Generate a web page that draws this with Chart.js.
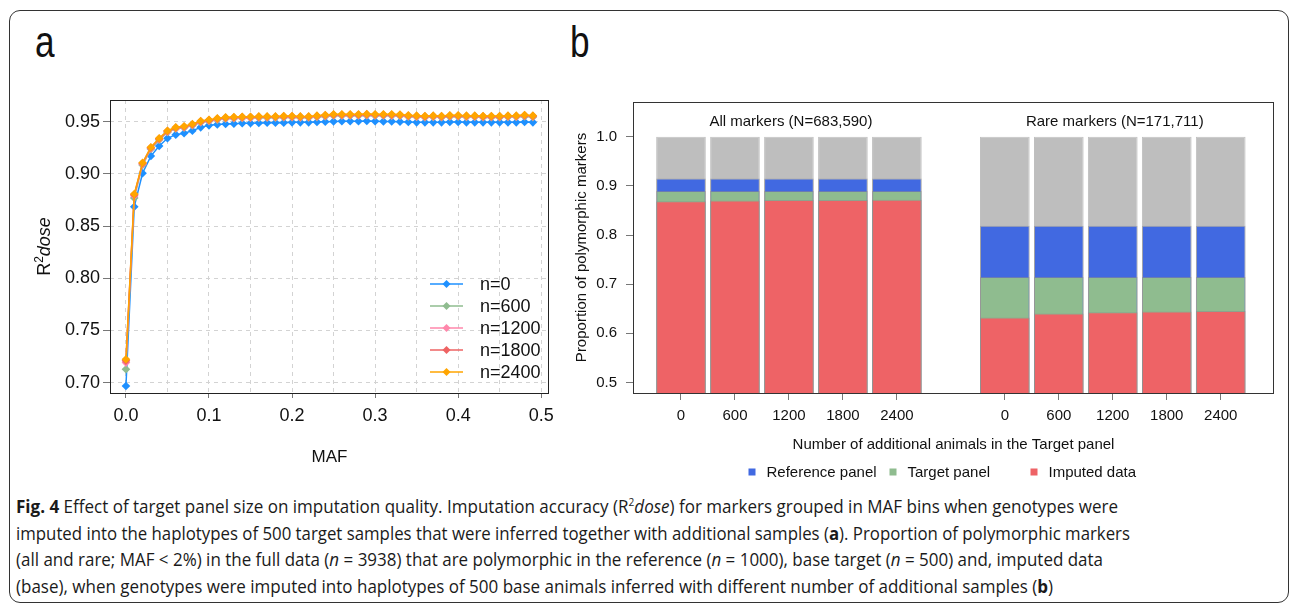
<!DOCTYPE html>
<html><head><meta charset="utf-8">
<script src="https://cdn.jsdelivr.net/npm/chart.js@4.4.1/dist/chart.umd.min.js"></script>
<style>
html,body{margin:0;padding:0;background:#fff;width:1292px;height:605px;overflow:hidden;}
#frame{position:absolute;left:9px;top:10px;width:1280px;height:593px;border:1.5px solid #333;border-radius:11px;box-sizing:border-box;}
.plab{position:absolute;font-family:"Liberation Sans",Arial,sans-serif;font-size:44px;line-height:44px;color:#111;transform:scaleX(0.8);transform-origin:left top;}
#ca{position:absolute;left:0;top:80px;}
#cb{position:absolute;left:560px;top:80px;}
#cap{position:absolute;left:16px;top:493px;font-family:"Open Sans",sans-serif;font-size:18.5px;line-height:26.6px;color:#1a1a1a;white-space:nowrap;}
.ln{transform-origin:left center;width:max-content;}
</style></head>
<body>
<div id="frame"></div>
<div class="plab" style="left:35px;top:20px;">a</div>
<div class="plab" style="left:570px;top:20px;">b</div>
<canvas id="ca" width="570" height="400"></canvas>
<canvas id="cb" width="732" height="410"></canvas>
<div id="cap">
<div class="ln" data-w="1102"><b>Fig. 4</b> Effect of target panel size on imputation quality. Imputation accuracy (R<sup style="font-size:11px;line-height:0">2</sup><i>dose</i>) for markers grouped in MAF bins when genotypes were</div>
<div class="ln" data-w="1114">imputed into the haplotypes of 500 target samples that were inferred together with additional samples (<b>a</b>). Proportion of polymorphic markers</div>
<div class="ln" data-w="1087">(all and rare; MAF &lt; 2%) in the full data (<i>n</i> = 3938) that are polymorphic in the reference (<i>n</i> = 1000), base target (<i>n</i> = 500) and, imputed data</div>
<div class="ln" data-w="1037">(base), when genotypes were imputed into haplotypes of 500 base animals inferred with different number of additional samples (<b>b</b>)</div>
</div>
<script>
// ---------------- Panel a data ----------------
const mafValues = [0,0.01,0.02,0.03,0.04,0.05,0.06,0.07,0.08,0.09,0.10,0.11,0.12,0.13,0.14,0.15,0.16,0.17,0.18,0.19,0.20,0.21,0.22,0.23,0.24,0.25,0.26,0.27,0.28,0.29,0.30,0.31,0.32,0.33,0.34,0.35,0.36,0.37,0.38,0.39,0.40,0.41,0.42,0.43,0.44,0.45,0.46,0.47,0.48,0.49];
const seriesLabels = ['n=0','n=600','n=1200','n=1800','n=2400'];
const r2_n0 = [0.6968,0.8686,0.9006,0.9171,0.9267,0.9341,0.9376,0.9389,0.9414,0.9446,0.9465,0.9474,0.9478,0.9481,0.9485,0.9485,0.9488,0.9491,0.9491,0.9491,0.9494,0.9494,0.9494,0.9497,0.9500,0.9503,0.9505,0.9505,0.9505,0.9507,0.9505,0.9503,0.9503,0.9500,0.9497,0.9494,0.9494,0.9494,0.9494,0.9497,0.9497,0.9494,0.9494,0.9494,0.9494,0.9494,0.9494,0.9494,0.9497,0.9494];
const r2_n600 = [0.7128,0.8770,0.9085,0.9238,0.9326,0.9400,0.9432,0.9442,0.9464,0.9492,0.9505,0.9518,0.9528,0.9531,0.9534,0.9535,0.9537,0.9538,0.9538,0.9541,0.9541,0.9538,0.9538,0.9544,0.9551,0.9557,0.9557,0.9558,0.9557,0.9560,0.9557,0.9557,0.9556,0.9554,0.9548,0.9545,0.9541,0.9544,0.9541,0.9547,0.9547,0.9544,0.9545,0.9541,0.9542,0.9541,0.9544,0.9545,0.9551,0.9544];
const r2_n1200 = [0.7192,0.8790,0.9094,0.9245,0.9332,0.9405,0.9437,0.9447,0.9469,0.9497,0.9510,0.9523,0.9533,0.9536,0.9539,0.9539,0.9542,0.9542,0.9543,0.9546,0.9546,0.9542,0.9543,0.9549,0.9556,0.9562,0.9562,0.9562,0.9562,0.9565,0.9562,0.9562,0.9561,0.9559,0.9552,0.9549,0.9546,0.9549,0.9546,0.9552,0.9552,0.9549,0.9549,0.9546,0.9546,0.9546,0.9549,0.9549,0.9556,0.9549];
const r2_n1800 = [0.7210,0.8800,0.9102,0.9250,0.9337,0.9410,0.9442,0.9452,0.9474,0.9503,0.9515,0.9528,0.9538,0.9541,0.9544,0.9544,0.9547,0.9547,0.9547,0.9551,0.9551,0.9547,0.9547,0.9554,0.9561,0.9567,0.9567,0.9567,0.9567,0.9570,0.9567,0.9567,0.9567,0.9564,0.9557,0.9554,0.9551,0.9554,0.9551,0.9557,0.9557,0.9554,0.9554,0.9551,0.9551,0.9551,0.9554,0.9554,0.9561,0.9554];
const r2_n2400 = [0.7224,0.8807,0.9107,0.9255,0.9341,0.9414,0.9446,0.9456,0.9478,0.9507,0.9519,0.9532,0.9542,0.9545,0.9548,0.9548,0.9551,0.9551,0.9551,0.9555,0.9555,0.9551,0.9551,0.9558,0.9565,0.9571,0.9571,0.9571,0.9571,0.9574,0.9571,0.9571,0.9571,0.9568,0.9561,0.9558,0.9555,0.9558,0.9555,0.9561,0.9561,0.9558,0.9558,0.9555,0.9555,0.9555,0.9558,0.9558,0.9565,0.9558];
const xTicksA = [0,0.05,0.10,0.15,0.20,0.25,0.30,0.35,0.40,0.45,0.50];
const yTicksA = [0.70,0.75,0.80,0.85,0.90,0.95];

// ---------------- Panel b data ----------------
const groupTitles = ['All markers (N=683,590)','Rare markers (N=171,711)'];
const extraAnimals = ['0','600','1200','1800','2400'];
const totalAll = [1,1,1,1,1];
const refPanelAll = [0.9154,0.9154,0.9154,0.9154,0.9154];
const targetPanelAll = [0.8896,0.8896,0.8896,0.8896,0.8896];
const imputedAll = [0.8687,0.8707,0.8713,0.8713,0.8720];
const totalRare = [1,1,1,1,1];
const refPanelRare = [0.8190,0.8190,0.8190,0.8190,0.8190];
const targetPanelRare = [0.7148,0.7148,0.7148,0.7148,0.7148];
const imputedRare = [0.6321,0.6402,0.6430,0.6443,0.6457];
const legendLabelsB = ['Reference panel','Target panel','Imputed data'];
const yTicksB = [0.5,0.6,0.7,0.8,0.9,1.0];

// ---------------- styles ----------------
const seriesColors = ['#1E90FF','#8FBC8F','#FF87AB','#EE6363','#FFA500'];
const FONT = '"Liberation Sans", Arial, sans-serif';
const seriesData = [r2_n0, r2_n600, r2_n1200, r2_n1800, r2_n2400];

// caption fitting
document.querySelectorAll('.ln').forEach(el => {
  const w = el.getBoundingClientRect().width;
  el.style.transform = 'scaleX(' + (parseFloat(el.dataset.w) / w) + ')';
});

// ---------------- Chart a ----------------
const dsA = seriesData.map((arr, i) => ({
  label: seriesLabels[i],
  data: mafValues.map((x, j) => ({x: x, y: arr[j]})),
  borderColor: seriesColors[i],
  backgroundColor: seriesColors[i],
  borderWidth: 1.5,
  pointStyle: 'rectRot',
  pointRadius: 4.3,
  pointBorderWidth: 0,
  order: 5 - i
}));

const pluginA = {
  id: 'decorA',
  afterDraw(chart) {
    const ctx = chart.ctx, a = chart.chartArea;
    ctx.save();
    ctx.strokeStyle = '#222'; ctx.lineWidth = 1;
    ctx.strokeRect(Math.round(a.left) + 0.5, Math.round(a.top) + 0.5, Math.round(a.right - a.left) - 1, Math.round(a.bottom - a.top));
    // legend
    ctx.font = '18px ' + FONT; ctx.textBaseline = 'middle'; ctx.textAlign = 'left';
    chart.data.datasets.forEach((ds, i) => {
      const y = a.bottom - 109 + i * 22;
      ctx.strokeStyle = ds.borderColor; ctx.lineWidth = 1.5;
      ctx.beginPath(); ctx.moveTo(a.right - 119, y); ctx.lineTo(a.right - 86, y); ctx.stroke();
      ctx.fillStyle = ds.backgroundColor;
      ctx.beginPath();
      const cx = a.right - 102.5, r = 4;
      ctx.moveTo(cx, y - r); ctx.lineTo(cx + r, y); ctx.lineTo(cx, y + r); ctx.lineTo(cx - r, y); ctx.closePath(); ctx.fill();
      ctx.fillStyle = '#111';
      ctx.fillText(ds.label, a.right - 69, y + 1);
    });
    // y title R^2 dose
    const cy = (a.top + a.bottom) / 2;
    ctx.translate(50, cy);
    ctx.rotate(-Math.PI / 2);
    const fR = '18px ' + FONT, f2 = '12px ' + FONT, fD = 'italic 18px ' + FONT;
    ctx.font = fR; const wR = ctx.measureText('R').width;
    ctx.font = f2; const w2 = ctx.measureText('2').width;
    ctx.font = fD; const wD = ctx.measureText('dose').width;
    let x0 = -(wR + w2 + wD) / 2;
    ctx.fillStyle = '#111'; ctx.textBaseline = 'alphabetic';
    ctx.font = fR; ctx.fillText('R', x0, 0); x0 += wR;
    ctx.font = f2; ctx.fillText('2', x0, -7); x0 += w2;
    ctx.font = fD; ctx.fillText('dose', x0, 0);
    ctx.restore();
  }
};

new Chart(document.getElementById('ca'), {
  type: 'line',
  data: {datasets: dsA},
  options: {
    responsive: false, animation: false, devicePixelRatio: 1,
    layout: {padding: {top: 20, right: 21, bottom: 0, left: 0}},
    plugins: {legend: {display: false}, tooltip: {enabled: false}},
    scales: {
      x: {
        type: 'linear', min: -0.0192, max: 0.5094, bounds: 'data',
        afterBuildTicks: s => { s.ticks = xTicksA.map(v => ({value: v})); },
        afterFit: s => { s.height = 87; },
        grid: {color: '#d3d3d3', lineWidth: 1, tickLength: 5, tickWidth: 1,
               tickColor: c => (c.index % 2 === 0 ? '#777' : 'rgba(0,0,0,0)'), tickBorderDash: []},
        border: {display: false, dash: [4, 4]},
        ticks: {autoSkip: false, maxRotation: 0, padding: 7, color: '#111', font: {family: FONT, size: 18},
                callback: (v, i) => (i % 2 === 0 ? v.toFixed(1) : '')},
        title: {display: true, text: 'MAF', color: '#111', font: {family: FONT, size: 17}, padding: {top: 0, bottom: 12}}
      },
      y: {
        min: 0.6901, max: 0.9708, bounds: 'data',
        afterBuildTicks: s => { s.ticks = yTicksA.map(v => ({value: v})); },
        afterFit: s => { s.width = 110; },
        grid: {color: '#d3d3d3', lineWidth: 1, tickLength: 7, tickColor: '#777', tickBorderDash: []},
        border: {display: false, dash: [4, 4]},
        ticks: {padding: 3, color: '#111', font: {family: FONT, size: 18}, callback: v => v.toFixed(2)}
      }
    }
  },
  plugins: [pluginA]
});

// ---------------- Chart b ----------------
const groupSize = extraAnimals.length;
function pts(arrAll, arrRare) {
  const out = [];
  arrAll.forEach((v, k) => out.push({x: k, y: v}));
  arrRare.forEach((v, k) => out.push({x: groupSize + 1 + k, y: v}));
  return out;
}
const colorsB = {total: '#BEBEBE', ref: '#4169E1', target: '#8FBC8F', imputed: '#EE6366'};
const barCommon = {grouped: false, barPercentage: 0.92, categoryPercentage: 1, borderWidth: 1, borderColor: 'rgba(140,140,140,0.55)', borderSkipped: 'bottom'};
const dsB = [
  Object.assign({label: legendLabelsB[2], data: pts(imputedAll, imputedRare), backgroundColor: colorsB.imputed, order: 1}, barCommon),
  Object.assign({label: legendLabelsB[1], data: pts(targetPanelAll, targetPanelRare), backgroundColor: colorsB.target, order: 2}, barCommon),
  Object.assign({label: legendLabelsB[0], data: pts(refPanelAll, refPanelRare), backgroundColor: colorsB.ref, order: 3}, barCommon),
  Object.assign({label: 'Not polymorphic', data: pts(totalAll, totalRare), backgroundColor: colorsB.total, order: 4}, barCommon)
];
const tickPosB = [];
for (let g = 0; g < 2; g++) for (let k = 0; k < groupSize; k++) tickPosB.push(g * (groupSize + 1) + k);

const pluginB = {
  id: 'decorB',
  afterDraw(chart) {
    const ctx = chart.ctx, a = chart.chartArea, xs = chart.scales.x;
    ctx.save();
    ctx.strokeStyle = '#333'; ctx.lineWidth = 1;
    ctx.strokeRect(Math.round(a.left) + 0.5, Math.round(a.top) + 0.5, Math.round(a.right - a.left) - 1, Math.round(a.bottom - a.top));
    ctx.fillStyle = '#111'; ctx.font = '15px ' + FONT; ctx.textAlign = 'center'; ctx.textBaseline = 'middle';
    groupTitles.forEach((t, g) => {
      ctx.fillText(t, xs.getPixelForValue(g * (groupSize + 1) + (groupSize - 1) / 2) + 2, a.top + 20);
    });
    // legend
    const order = [2, 1, 0];
    const offs = [119, 260, 401];
    ctx.textAlign = 'left';
    order.forEach((di, k) => {
      const ds = chart.data.datasets[di];
      const cx = a.left + offs[k], cy = a.bottom + 79;
      ctx.fillStyle = ds.backgroundColor;
      ctx.fillRect(cx - 3.5, cy - 3.5, 7, 7);
      ctx.fillStyle = '#111';
      ctx.fillText(ds.label, cx + 14.5, cy + 1);
    });
    ctx.restore();
  }
};

new Chart(document.getElementById('cb'), {
  type: 'bar',
  data: {datasets: dsB},
  options: {
    responsive: false, animation: false, devicePixelRatio: 1,
    layout: {padding: {top: 22, right: 18, bottom: 0, left: 0}},
    plugins: {legend: {display: false}, tooltip: {enabled: false}},
    scales: {
      x: {
        type: 'linear', min: -0.889, max: 10.987, bounds: 'data', offset: false,
        afterBuildTicks: s => { s.ticks = tickPosB.map(v => ({value: v})); },
        afterFit: s => { s.height = 97; },
        grid: {display: true, drawOnChartArea: false, offset: false, tickLength: 7, tickColor: '#777', tickWidth: 1},
        border: {display: false},
        ticks: {autoSkip: false, maxRotation: 0, padding: 7, color: '#111', font: {family: FONT, size: 15},
                callback: (v, i) => extraAnimals[i % groupSize]},
        title: {display: true, text: 'Number of additional animals in the Target panel', color: '#111',
                font: {family: FONT, size: 15}, padding: {top: 0, bottom: 36}}
      },
      y: {
        min: 0.4785, max: 1.071, bounds: 'data',
        afterBuildTicks: s => { s.ticks = yTicksB.map(v => ({value: v})); },
        afterFit: s => { s.width = 73; },
        grid: {display: true, drawOnChartArea: false, tickLength: 7, tickColor: '#777'},
        border: {display: false},
        ticks: {padding: 9, color: '#111', font: {family: FONT, size: 15}, callback: v => v.toFixed(1)},
        title: {display: true, text: 'Proportion of polymorphic markers', color: '#111',
                font: {family: FONT, size: 15}, padding: {top: 13, bottom: 0}}
      }
    }
  },
  plugins: [pluginB]
});
</script>
</body></html>
